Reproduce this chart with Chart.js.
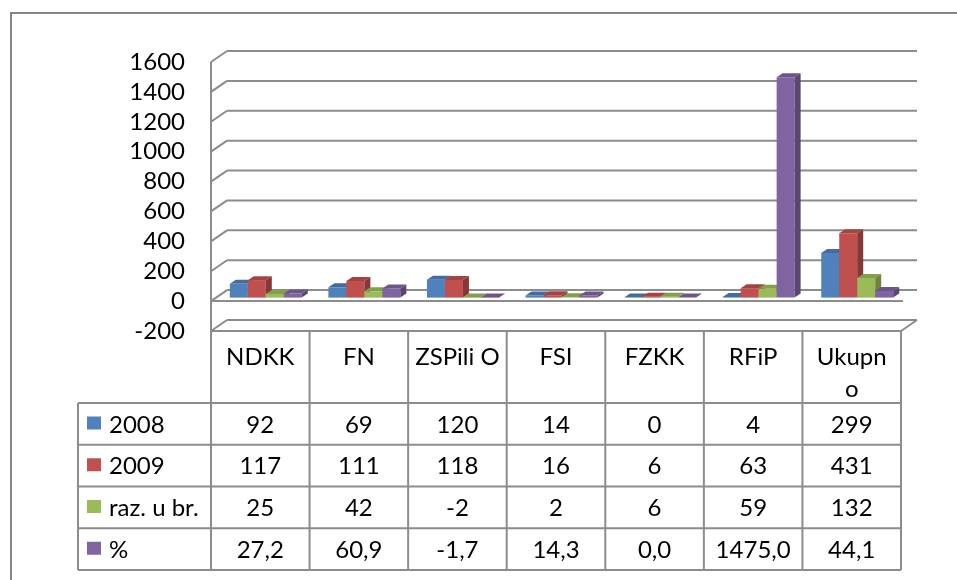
<!DOCTYPE html>
<html>
<head>
<meta charset="utf-8">
<script src="https://cdn.jsdelivr.net/npm/chart.js@4.4.0/dist/chart.umd.min.js"></script>
<style>
html, body { margin: 0; padding: 0; background: #fff; }
#wrap { position: relative; width: 957px; height: 580px; }
</style>
</head>
<body>
<div id="wrap"><canvas id="chart"></canvas></div>
<script>
"use strict";

// data
const categories = ["NDKK", "FN", "ZSPili O", "FSI", "FZKK", "RFiP", "Ukupno"];
const headerLines = [["NDKK"], ["FN"], ["ZSPili O"], ["FSI"], ["FZKK"], ["RFiP"], ["Ukupn", "o"]];
const y2008 = [92, 69, 120, 14, 0, 4, 299];
const y2009 = [117, 111, 118, 16, 6, 63, 431];
const razlika = [25, 42, -2, 2, 6, 59, 132];
const postotak = [27.2, 60.9, -1.7, 14.3, 0.0, 1475.0, 44.1];
const seriesNames = ["2008", "2009", "raz. u br.", "%"];
const seriesDecimals = [0, 0, 0, 1];
const yMin = -200, yMax = 1600, yStep = 200;

// look
const FRONT = ["#4F81BD", "#C0504D", "#9BBB59", "#8064A2"];
const TOP = ["#436DA1", "#A34441", "#849F4C", "#6D558A"];
const SIDE = ["#375A84", "#863836", "#6D833E", "#5A4671"];
const GRID = "#8c8c8c";
const FONT_SIZE = 24;
const FONT = FONT_SIZE + "px Lato";
const DX = 16, DY = -11;     // wall depth
const BX = 5.5, BY = -3.5;   // bar plane shift
const BDX = 6, BDY = -4;     // bar depth
const TABLE_LEFT = 78, HEAD_BOTTOM = 403, TABLE_BOTTOM = 570;

const fmt = (v, d) => v.toFixed(d).replace(".", ",");

function line(ctx, x1, y1, x2, y2) {
  ctx.beginPath();
  ctx.moveTo(x1, y1);
  ctx.lineTo(x2, y2);
  ctx.stroke();
}

function poly(ctx, pts, fill) {
  ctx.beginPath();
  ctx.moveTo(pts[0][0], pts[0][1]);
  for (let i = 1; i < pts.length; i++) ctx.lineTo(pts[i][0], pts[i][1]);
  ctx.closePath();
  ctx.fillStyle = fill;
  ctx.fill();
}

const threeD = {
  id: "threeD",
  beforeDatasetsDraw(chart) {
    const { ctx, chartArea: a } = chart;
    const y = chart.scales.y;
    ctx.save();
    ctx.strokeStyle = GRID;
    ctx.lineWidth = 2;
    for (const t of y.ticks) {
      const py = y.getPixelForValue(t.value);
      line(ctx, a.left + DX, py + DY, a.right + DX, py + DY);
      line(ctx, a.left, py, a.left + DX, py + DY);
    }
    const pMin = y.getPixelForValue(yMin);
    line(ctx, a.right, pMin, a.right + DX, pMin + DY);
    const p0 = y.getPixelForValue(0);
    line(ctx, a.left, p0, a.right + 2, p0);
    line(ctx, a.left, y.getPixelForValue(yMax), a.left, TABLE_BOTTOM);

    // bars, left to right so nearer faces cover the sides behind them
    const metas = chart.data.datasets.map((_, d) => chart.getDatasetMeta(d));
    for (let i = 0; i < categories.length; i++) {
      metas.forEach((m, d) => {
        const el = m.data[i];
        const l = el.x - el.width / 2 + BX, r = el.x + el.width / 2 + BX;
        const t = Math.min(el.y, el.base) + BY, b = Math.max(el.y, el.base) + BY;
        poly(ctx, [[l, t], [r, t], [r, b], [l, b]], FRONT[d]);
        poly(ctx, [[l, t], [l + BDX, t + BDY], [r + BDX, t + BDY], [r, t]], TOP[d]);
        poly(ctx, [[r, t], [r + BDX, t + BDY], [r + BDX, b + BDY], [r, b]], SIDE[d]);
      });
    }
    ctx.restore();
    return false;
  },
  afterDraw(chart) {
    const { ctx, chartArea: a } = chart;
    const series = chart.data.datasets;
    const n = categories.length;
    const colW = (a.right - a.left) / n;
    const rowH = (TABLE_BOTTOM - HEAD_BOTTOM) / series.length;
    ctx.save();
    ctx.strokeStyle = "#868686";
    ctx.lineWidth = 2;
    ctx.strokeRect(11, 13, 970, 620);

    ctx.strokeStyle = GRID;
    line(ctx, a.left, a.bottom, a.right, a.bottom);
    for (let k = 1; k <= n; k++) {
      const x = a.left + k * colW;
      line(ctx, x, a.bottom, x, TABLE_BOTTOM);
    }
    line(ctx, TABLE_LEFT, HEAD_BOTTOM, TABLE_LEFT, TABLE_BOTTOM);
    for (let r = 0; r <= series.length; r++) {
      const yy = HEAD_BOTTOM + r * rowH;
      line(ctx, TABLE_LEFT, yy, a.right, yy);
    }

    ctx.font = FONT;
    ctx.fillStyle = "#000";
    ctx.textBaseline = "alphabetic";
    ctx.textAlign = "center";
    headerLines.forEach((lines, i) => {
      const cx = a.left + (i + 0.5) * colW;
      lines.forEach((s, k) => ctx.fillText(s, cx, 365 + k * 32));
    });
    series.forEach((ds, r) => {
      const base = HEAD_BOTTOM + r * rowH + 29.5;
      ctx.fillStyle = ds.backgroundColor;
      ctx.fillRect(87, base - 16, 14, 13);
      ctx.fillStyle = "#000";
      ctx.textAlign = "left";
      ctx.fillText(ds.label, 109, base);
      ctx.textAlign = "center";
      ds.data.forEach((v, i) => {
        ctx.fillText(fmt(v, seriesDecimals[r]), a.left + (i + 0.5) * colW, base);
      });
    });
    ctx.restore();
  }
};

Chart.defaults.font.family = "Lato";

new Chart(document.getElementById("chart"), {
  type: "bar",
  data: {
    labels: categories,
    datasets: [y2008, y2009, razlika, postotak].map((vals, d) => ({
      label: seriesNames[d],
      data: vals,
      backgroundColor: FRONT[d],
      borderWidth: 0,
      barPercentage: 1,
      categoryPercentage: 0.73,
    })),
  },
  options: {
    responsive: true,
    maintainAspectRatio: false,
    animation: false,
    layout: { padding: { left: 0, top: 62, right: 56, bottom: 249 } },
    plugins: { legend: { display: false }, tooltip: { enabled: false } },
    scales: {
      x: { display: false },
      y: {
        min: yMin,
        max: yMax,
        ticks: {
          stepSize: yStep,
          autoSkip: false,
          color: "#000",
          font: { family: "Lato", size: FONT_SIZE, lineHeight: 1 },
          padding: 26,
          callback: (v) => String(v),
        },
        grid: { display: false, drawTicks: false },
        border: { display: false },
        afterFit: (s) => { s.width = 211; },
      },
    },
  },
  plugins: [threeD],
});
</script>
</body>
</html>
